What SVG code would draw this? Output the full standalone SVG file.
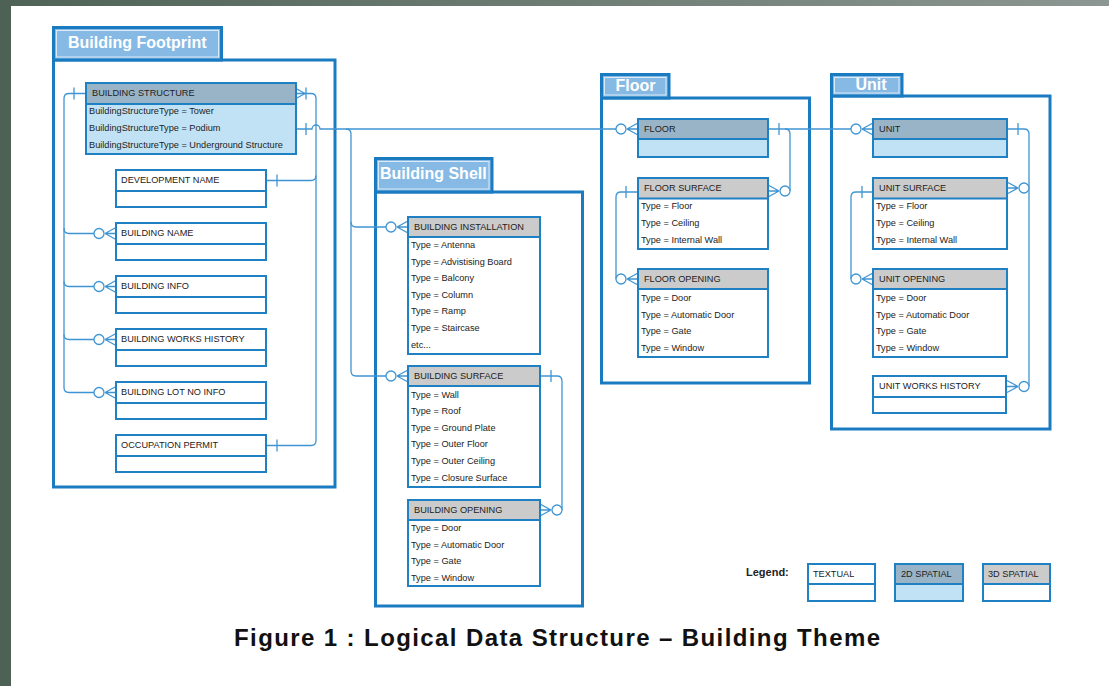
<svg xmlns="http://www.w3.org/2000/svg" width="1109" height="686" viewBox="0 0 1109 686">
  <style>
    .frame { fill: none; stroke: #1b7bc1; stroke-width: 3; }
    .tab { fill: #86bae5; stroke: #1b7bc1; stroke-width: 3; }
    .tabin { fill: none; stroke: #ffffff; stroke-width: 1; opacity: 0.7; }
    .tabtxt { font-family: "Liberation Sans", Arial, sans-serif; font-weight: bold; font-size: 16px; fill: #ffffff; }
    .ent { stroke: #1f80c4; stroke-width: 2; }
    .hd-2d { fill: #9ab4c7; }
    .bd-2d { fill: #c1e2f5; }
    .hd-3d { fill: #cbcbcb; }
    .bd { fill: #ffffff; }
    .sep { stroke: #1f80c4; stroke-width: 2; }
    .t { font-family: "Liberation Sans", Arial, sans-serif; font-size: 9.2px; fill: #222222; }
    .conn { fill: none; stroke: #3f95d3; stroke-width: 1.3; }
    .mk { fill: none; stroke: #3f95d3; stroke-width: 1.3; }
    .mkc { fill: #ffffff; stroke: #3f95d3; stroke-width: 1.3; }
    .legend { font-family: "Liberation Sans", Arial, sans-serif; font-weight: bold; font-size: 11px; fill: #222222; }
    .title { font-family: "Liberation Sans", Arial, sans-serif; font-weight: bold; font-size: 24px; fill: #111111; }
  </style>
  <defs>
    <linearGradient id="topband" x1="0" y1="0" x2="1" y2="0">
      <stop offset="0" stop-color="#4f6356"/>
      <stop offset="1" stop-color="#8c9692"/>
    </linearGradient>
    <!-- zero-or-many end: circle, then crow's foot meeting the entity 17px to the right -->
    <g id="zm">
      <path class="mk" d="M6,0 L17,-6 M6,0 L17,0 M6,0 L17,6"/>
      <circle class="mkc" cx="0" cy="0" r="5"/>
    </g>
    <!-- one (mandatory) bar -->
    <path id="bar" class="mk" d="M0,-6 V6"/>
  </defs>

  <!-- page -->
  <rect x="0" y="0" width="1109" height="686" fill="#ffffff"/>
  <rect x="0" y="0" width="1109" height="6" fill="url(#topband)"/>
  <rect x="0" y="0" width="11" height="686" fill="#4d6154"/>

  <!-- package frames -->
  <g id="pkg-footprint">
    <rect class="frame" x="53.5" y="60" width="281.5" height="427"/>
    <rect class="tab" x="53.5" y="27.5" width="168" height="32.5"/>
    <rect class="tabin" x="56.5" y="30.5" width="162" height="26.5"/>
    <text class="tabtxt" x="68" y="48">Building Footprint</text>
  </g>
  <g id="pkg-shell">
    <rect class="frame" x="375.5" y="192" width="207" height="414"/>
    <rect class="tab" x="375.5" y="158.5" width="116.5" height="33.5"/>
    <rect class="tabin" x="378.5" y="161.5" width="110.5" height="27.5"/>
    <text class="tabtxt" x="380" y="179">Building Shell</text>
  </g>
  <g id="pkg-floor">
    <rect class="frame" x="601.5" y="98" width="208" height="285"/>
    <rect class="tab" x="601.5" y="74.5" width="67.5" height="23.5"/>
    <rect class="tabin" x="604.5" y="77.5" width="61.5" height="17.5"/>
    <text class="tabtxt" x="635.5" y="91" text-anchor="middle">Floor</text>
  </g>
  <g id="pkg-unit">
    <rect class="frame" x="831.5" y="96" width="218.5" height="333"/>
    <rect class="tab" x="831.5" y="74.5" width="70.5" height="21.5"/>
    <rect class="tabin" x="834.5" y="77.5" width="64.5" height="15.5"/>
    <text class="tabtxt" x="871" y="89.5" text-anchor="middle" font-size="17">Unit</text>
  </g>

  <!-- connectors -->
  <g id="connectors">
    <!-- Building Structure to its textual records on the left -->
    <path class="conn" d="M86,93.5 H69 Q64,93.5 64,98.5 V387.5 Q64,392.5 69,392.5 H94"/>
    <path class="conn" d="M64,228.5 Q64,233.5 69,233.5 H94"/>
    <path class="conn" d="M64,281.5 Q64,286.5 69,286.5 H94"/>
    <path class="conn" d="M64,334.5 Q64,339.5 69,339.5 H94"/>
    <use href="#bar" x="74" y="93.5"/>
    <use href="#zm" x="99" y="233.5"/>
    <use href="#zm" x="99" y="286.5"/>
    <use href="#zm" x="99" y="339.5"/>
    <use href="#zm" x="99" y="392.5"/>

    <!-- Building Structure to development name / occupation permit -->
    <path class="conn" d="M296,93.5 H311 Q316,93.5 316,98.5 V440.5 Q316,445.5 311,445.5 H266"/>
    <path class="conn" d="M266,180.5 H311 Q316,180.5 316,175.5"/>
    <path class="mk" d="M296,88.5 L305,93.5 L296,98.5"/>
    <use href="#bar" x="306" y="93.5"/>
    <use href="#bar" x="277" y="180.5"/>
    <use href="#bar" x="277" y="445.5"/>

    <!-- Building Structure to Floor and to the shell elements -->
    <path class="conn" d="M296,129 H312 A4,4 0 0 1 320,129 H616"/>
    <use href="#bar" x="306" y="129"/>
    <path class="conn" d="M346,129 Q351,129 351,134 V371 Q351,376 356,376 H386"/>
    <path class="conn" d="M351,222 Q351,227 356,227 H386"/>
    <use href="#zm" x="391" y="227"/>
    <use href="#zm" x="391" y="376"/>
    <use href="#zm" x="621" y="129"/>

    <!-- Building Surface to Building Opening -->
    <path class="conn" d="M540,376 H557 Q562,376 562,381 V510"/>
    <use href="#bar" x="551" y="376"/>
    <use href="#zm" transform="translate(557,510) scale(-1,1)"/>

    <!-- Floor to Unit and Floor Surface -->
    <path class="conn" d="M768,129 H851"/>
    <path class="conn" d="M785,129 Q790,129 790,134 V191"/>
    <use href="#bar" x="779" y="129"/>
    <use href="#zm" transform="translate(785,191) scale(-1,1)"/>
    <use href="#zm" x="856" y="129"/>

    <!-- Floor Surface to Floor Opening -->
    <path class="conn" d="M638,192 H621 Q616,192 616,197 V279"/>
    <use href="#bar" x="626" y="192"/>
    <use href="#zm" x="621" y="279"/>

    <!-- Unit to Unit Surface and Unit Works History -->
    <path class="conn" d="M1007,129 H1024 Q1029,129 1029,134 V386.5"/>
    <use href="#bar" x="1018" y="129"/>
    <use href="#zm" transform="translate(1024,188) scale(-1,1)"/>
    <use href="#zm" transform="translate(1024,386.5) scale(-1,1)"/>

    <!-- Unit Surface to Unit Opening -->
    <path class="conn" d="M873,192 H856 Q851,192 851,197 V279"/>
    <use href="#bar" x="862" y="192"/>
    <use href="#zm" x="856" y="279"/>
  </g>

  <!-- Building Footprint entities -->
  <g id="building-structure">
    <rect class="ent bd-2d" x="86" y="83" width="210" height="71"/>
    <rect class="ent hd-2d" x="86" y="83" width="210" height="21"/>
    <text class="t" x="92" y="95.5">BUILDING STRUCTURE</text>
    <text class="t" x="89" y="114">BuildingStructureType = Tower</text>
    <text class="t" x="89" y="131">BuildingStructureType = Podium</text>
    <text class="t" x="89" y="148">BuildingStructureType = Underground Structure</text>
  </g>
  <g id="development-name">
    <rect class="ent bd" x="116" y="170" width="150" height="37"/>
    <line class="sep" x1="116" y1="191" x2="266" y2="191"/>
    <text class="t" x="121" y="182.5">DEVELOPMENT NAME</text>
  </g>
  <g id="building-name">
    <rect class="ent bd" x="116" y="223" width="150" height="37"/>
    <line class="sep" x1="116" y1="244" x2="266" y2="244"/>
    <text class="t" x="121" y="235.5">BUILDING NAME</text>
  </g>
  <g id="building-info">
    <rect class="ent bd" x="116" y="276" width="150" height="37"/>
    <line class="sep" x1="116" y1="297" x2="266" y2="297"/>
    <text class="t" x="121" y="288.5">BUILDING INFO</text>
  </g>
  <g id="building-works-history">
    <rect class="ent bd" x="116" y="329" width="150" height="37"/>
    <line class="sep" x1="116" y1="350" x2="266" y2="350"/>
    <text class="t" x="121" y="341.5">BUILDING WORKS HISTORY</text>
  </g>
  <g id="building-lot-no-info">
    <rect class="ent bd" x="116" y="382" width="150" height="37"/>
    <line class="sep" x1="116" y1="403" x2="266" y2="403"/>
    <text class="t" x="121" y="394.5">BUILDING LOT NO INFO</text>
  </g>
  <g id="occupation-permit">
    <rect class="ent bd" x="116" y="435" width="150" height="37"/>
    <line class="sep" x1="116" y1="456" x2="266" y2="456"/>
    <text class="t" x="121" y="447.5">OCCUPATION PERMIT</text>
  </g>

  <!-- Building Shell entities -->
  <g id="building-installation">
    <rect class="ent bd" x="408" y="217" width="132" height="137"/>
    <rect class="ent hd-3d" x="408" y="217" width="132" height="20"/>
    <text class="t" x="414" y="229.5">BUILDING INSTALLATION</text>
    <text class="t" x="411" y="248">Type = Antenna</text>
    <text class="t" x="411" y="264.6">Type = Advistising Board</text>
    <text class="t" x="411" y="281.2">Type = Balcony</text>
    <text class="t" x="411" y="297.8">Type = Column</text>
    <text class="t" x="411" y="314.4">Type = Ramp</text>
    <text class="t" x="411" y="331">Type = Staircase</text>
    <text class="t" x="411" y="347.6">etc...</text>
  </g>
  <g id="building-surface">
    <rect class="ent bd" x="408" y="366" width="132" height="121"/>
    <rect class="ent hd-3d" x="408" y="366" width="132" height="20"/>
    <text class="t" x="414" y="378.5">BUILDING SURFACE</text>
    <text class="t" x="411" y="397.5">Type = Wall</text>
    <text class="t" x="411" y="414.1">Type = Roof</text>
    <text class="t" x="411" y="430.7">Type = Ground Plate</text>
    <text class="t" x="411" y="447.3">Type = Outer Floor</text>
    <text class="t" x="411" y="463.9">Type = Outer Ceiling</text>
    <text class="t" x="411" y="480.5">Type = Closure Surface</text>
  </g>
  <g id="building-opening">
    <rect class="ent bd" x="408" y="500" width="132" height="86"/>
    <rect class="ent hd-3d" x="408" y="500" width="132" height="20"/>
    <text class="t" x="414" y="512.5">BUILDING OPENING</text>
    <text class="t" x="411" y="531">Type = Door</text>
    <text class="t" x="411" y="547.6">Type = Automatic Door</text>
    <text class="t" x="411" y="564.2">Type = Gate</text>
    <text class="t" x="411" y="580.8">Type = Window</text>
  </g>

  <!-- Floor entities -->
  <g id="floor">
    <rect class="ent bd-2d" x="638" y="119" width="130" height="38"/>
    <rect class="ent hd-2d" x="638" y="119" width="130" height="20"/>
    <text class="t" x="644" y="131.5">FLOOR</text>
  </g>
  <g id="floor-surface">
    <rect class="ent bd" x="638" y="178" width="130" height="71"/>
    <rect class="ent hd-3d" x="638" y="178" width="130" height="20.5"/>
    <text class="t" x="644" y="191">FLOOR SURFACE</text>
    <text class="t" x="641" y="209.3">Type = Floor</text>
    <text class="t" x="641" y="226.3">Type = Ceiling</text>
    <text class="t" x="641" y="243.3">Type = Internal Wall</text>
  </g>
  <g id="floor-opening">
    <rect class="ent bd" x="638" y="269" width="130" height="88"/>
    <rect class="ent hd-3d" x="638" y="269" width="130" height="20"/>
    <text class="t" x="644" y="281.5">FLOOR OPENING</text>
    <text class="t" x="641" y="301">Type = Door</text>
    <text class="t" x="641" y="317.6">Type = Automatic Door</text>
    <text class="t" x="641" y="334.2">Type = Gate</text>
    <text class="t" x="641" y="350.8">Type = Window</text>
  </g>

  <!-- Unit entities -->
  <g id="unit">
    <rect class="ent bd-2d" x="873" y="119" width="134" height="38"/>
    <rect class="ent hd-2d" x="873" y="119" width="134" height="20"/>
    <text class="t" x="879" y="131.5">UNIT</text>
  </g>
  <g id="unit-surface">
    <rect class="ent bd" x="873" y="178" width="134" height="71"/>
    <rect class="ent hd-3d" x="873" y="178" width="134" height="20.5"/>
    <text class="t" x="879" y="191">UNIT SURFACE</text>
    <text class="t" x="876" y="209.3">Type = Floor</text>
    <text class="t" x="876" y="226.3">Type = Ceiling</text>
    <text class="t" x="876" y="243.3">Type = Internal Wall</text>
  </g>
  <g id="unit-opening">
    <rect class="ent bd" x="873" y="269" width="134" height="88"/>
    <rect class="ent hd-3d" x="873" y="269" width="134" height="20"/>
    <text class="t" x="879" y="281.5">UNIT OPENING</text>
    <text class="t" x="876" y="301">Type = Door</text>
    <text class="t" x="876" y="317.6">Type = Automatic Door</text>
    <text class="t" x="876" y="334.2">Type = Gate</text>
    <text class="t" x="876" y="350.8">Type = Window</text>
  </g>
  <g id="unit-works-history">
    <rect class="ent bd" x="873" y="376" width="133" height="37"/>
    <line class="sep" x1="873" y1="397" x2="1006" y2="397"/>
    <text class="t" x="879" y="389">UNIT WORKS HISTORY</text>
  </g>

  <!-- legend -->
  <g id="legend">
    <text class="legend" x="746" y="576">Legend:</text>
    <rect class="ent bd" x="808" y="564" width="67" height="37"/>
    <line class="sep" x1="808" y1="584" x2="875" y2="584"/>
    <text class="t" x="813" y="576.5">TEXTUAL</text>
    <rect class="ent bd-2d" x="895" y="564" width="68" height="37"/>
    <rect class="ent hd-2d" x="895" y="564" width="68" height="20"/>
    <text class="t" x="901" y="576.5">2D SPATIAL</text>
    <rect class="ent bd" x="983" y="564" width="67" height="37"/>
    <rect class="ent hd-3d" x="983" y="564" width="67" height="20"/>
    <text class="t" x="988" y="576.5">3D SPATIAL</text>
  </g>

  <text class="title" x="234" y="646" textLength="646" lengthAdjust="spacing">Figure 1 : Logical Data Structure – Building Theme</text>
</svg>
